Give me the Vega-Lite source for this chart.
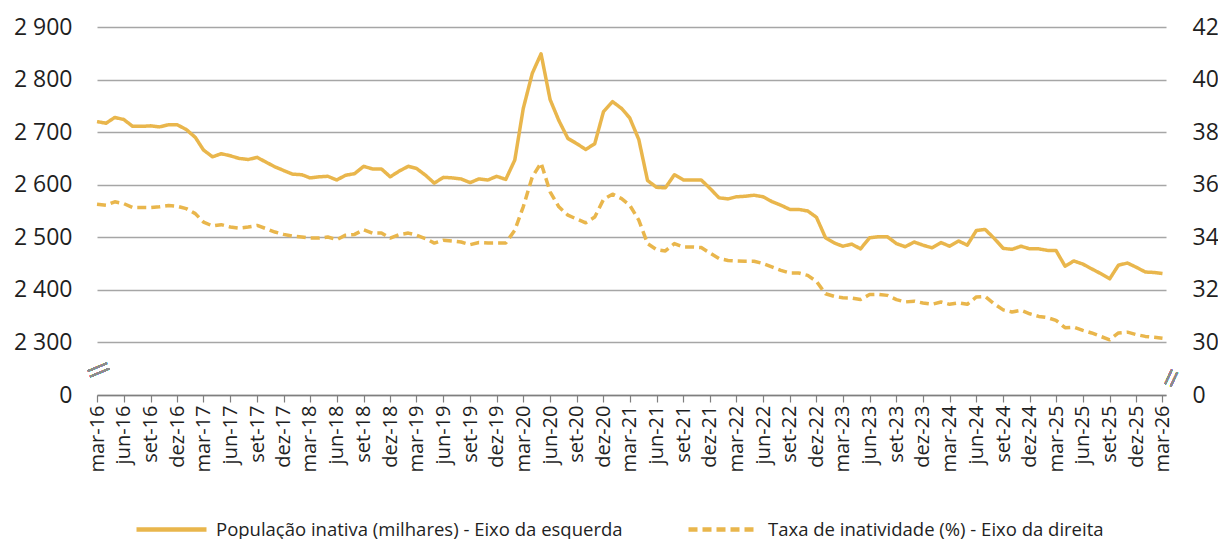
{
  "$schema": "https://vega.github.io/schema/vega-lite/v6.json",
  "width": 1069,
  "height": 368,
  "autosize": {"type": "none"},
  "padding": {"left": 97, "top": 27, "right": 52, "bottom": 144},
  "background": "white",
  "config": {
    "view": {"stroke": null},
    "font": "Open Sans",
    "axis": {"labelFont": "Open Sans", "labelColor": "#1f1f1f"},
    "legend": {"labelFont": "Open Sans"}
  },
  "data": {
    "values": [
      {"d": "2016-03-01", "p": 2720, "t": 35.26},
      {"d": "2016-04-01", "p": 2717, "t": 35.22},
      {"d": "2016-05-01", "p": 2728, "t": 35.35},
      {"d": "2016-06-01", "p": 2724, "t": 35.28},
      {"d": "2016-07-01", "p": 2711, "t": 35.13},
      {"d": "2016-08-01", "p": 2711, "t": 35.13},
      {"d": "2016-09-01", "p": 2712, "t": 35.13},
      {"d": "2016-10-01", "p": 2710, "t": 35.16},
      {"d": "2016-11-01", "p": 2714, "t": 35.21},
      {"d": "2016-12-01", "p": 2714, "t": 35.18},
      {"d": "2017-01-01", "p": 2705, "t": 35.09},
      {"d": "2017-02-01", "p": 2690, "t": 34.90},
      {"d": "2017-03-01", "p": 2666, "t": 34.58},
      {"d": "2017-04-01", "p": 2653, "t": 34.43},
      {"d": "2017-05-01", "p": 2659, "t": 34.48},
      {"d": "2017-06-01", "p": 2655, "t": 34.39},
      {"d": "2017-07-01", "p": 2650, "t": 34.35},
      {"d": "2017-08-01", "p": 2648, "t": 34.39},
      {"d": "2017-09-01", "p": 2652, "t": 34.45},
      {"d": "2017-10-01", "p": 2643, "t": 34.33},
      {"d": "2017-11-01", "p": 2634, "t": 34.20},
      {"d": "2017-12-01", "p": 2627, "t": 34.11},
      {"d": "2018-01-01", "p": 2620, "t": 34.04},
      {"d": "2018-02-01", "p": 2619, "t": 34.01},
      {"d": "2018-03-01", "p": 2613, "t": 33.97},
      {"d": "2018-04-01", "p": 2615, "t": 33.97},
      {"d": "2018-05-01", "p": 2616, "t": 34.01},
      {"d": "2018-06-01", "p": 2609, "t": 33.91},
      {"d": "2018-07-01", "p": 2618, "t": 34.08},
      {"d": "2018-08-01", "p": 2621, "t": 34.11},
      {"d": "2018-09-01", "p": 2635, "t": 34.29},
      {"d": "2018-10-01", "p": 2630, "t": 34.16},
      {"d": "2018-11-01", "p": 2630, "t": 34.16},
      {"d": "2018-12-01", "p": 2615, "t": 33.97},
      {"d": "2019-01-01", "p": 2626, "t": 34.10},
      {"d": "2019-02-01", "p": 2635, "t": 34.16},
      {"d": "2019-03-01", "p": 2631, "t": 34.08},
      {"d": "2019-04-01", "p": 2618, "t": 33.95},
      {"d": "2019-05-01", "p": 2603, "t": 33.78},
      {"d": "2019-06-01", "p": 2614, "t": 33.89},
      {"d": "2019-07-01", "p": 2613, "t": 33.86},
      {"d": "2019-08-01", "p": 2611, "t": 33.82},
      {"d": "2019-09-01", "p": 2604, "t": 33.72},
      {"d": "2019-10-01", "p": 2611, "t": 33.80},
      {"d": "2019-11-01", "p": 2609, "t": 33.78},
      {"d": "2019-12-01", "p": 2616, "t": 33.78},
      {"d": "2020-01-01", "p": 2610, "t": 33.78},
      {"d": "2020-02-01", "p": 2647, "t": 34.27},
      {"d": "2020-03-01", "p": 2745, "t": 35.16},
      {"d": "2020-04-01", "p": 2812, "t": 36.30},
      {"d": "2020-05-01", "p": 2849, "t": 36.83},
      {"d": "2020-06-01", "p": 2762, "t": 35.73},
      {"d": "2020-07-01", "p": 2722, "t": 35.16},
      {"d": "2020-08-01", "p": 2688, "t": 34.84},
      {"d": "2020-09-01", "p": 2678, "t": 34.69},
      {"d": "2020-10-01", "p": 2667, "t": 34.55},
      {"d": "2020-11-01", "p": 2678, "t": 34.77},
      {"d": "2020-12-01", "p": 2739, "t": 35.44},
      {"d": "2021-01-01", "p": 2758, "t": 35.64},
      {"d": "2021-02-01", "p": 2745, "t": 35.47},
      {"d": "2021-03-01", "p": 2727, "t": 35.22},
      {"d": "2021-04-01", "p": 2686, "t": 34.65},
      {"d": "2021-05-01", "p": 2608, "t": 33.76},
      {"d": "2021-06-01", "p": 2595, "t": 33.53},
      {"d": "2021-07-01", "p": 2594, "t": 33.48},
      {"d": "2021-08-01", "p": 2619, "t": 33.76},
      {"d": "2021-09-01", "p": 2609, "t": 33.63},
      {"d": "2021-10-01", "p": 2609, "t": 33.63},
      {"d": "2021-11-01", "p": 2609, "t": 33.61},
      {"d": "2021-12-01", "p": 2593, "t": 33.40},
      {"d": "2022-01-01", "p": 2575, "t": 33.19},
      {"d": "2022-02-01", "p": 2573, "t": 33.12},
      {"d": "2022-03-01", "p": 2577, "t": 33.10},
      {"d": "2022-04-01", "p": 2578, "t": 33.09},
      {"d": "2022-05-01", "p": 2580, "t": 33.09},
      {"d": "2022-06-01", "p": 2577, "t": 33.00},
      {"d": "2022-07-01", "p": 2568, "t": 32.87},
      {"d": "2022-08-01", "p": 2561, "t": 32.74},
      {"d": "2022-09-01", "p": 2553, "t": 32.64},
      {"d": "2022-10-01", "p": 2553, "t": 32.64},
      {"d": "2022-11-01", "p": 2550, "t": 32.55},
      {"d": "2022-12-01", "p": 2538, "t": 32.32},
      {"d": "2023-01-01", "p": 2499, "t": 31.85},
      {"d": "2023-02-01", "p": 2489, "t": 31.75},
      {"d": "2023-03-01", "p": 2483, "t": 31.70},
      {"d": "2023-04-01", "p": 2487, "t": 31.69},
      {"d": "2023-05-01", "p": 2478, "t": 31.63},
      {"d": "2023-06-01", "p": 2499, "t": 31.82},
      {"d": "2023-07-01", "p": 2501, "t": 31.83},
      {"d": "2023-08-01", "p": 2501, "t": 31.79},
      {"d": "2023-09-01", "p": 2488, "t": 31.63},
      {"d": "2023-10-01", "p": 2482, "t": 31.54},
      {"d": "2023-11-01", "p": 2491, "t": 31.57},
      {"d": "2023-12-01", "p": 2485, "t": 31.50},
      {"d": "2024-01-01", "p": 2480, "t": 31.45},
      {"d": "2024-02-01", "p": 2490, "t": 31.54},
      {"d": "2024-03-01", "p": 2483, "t": 31.45},
      {"d": "2024-04-01", "p": 2493, "t": 31.51},
      {"d": "2024-05-01", "p": 2485, "t": 31.45},
      {"d": "2024-06-01", "p": 2513, "t": 31.73},
      {"d": "2024-07-01", "p": 2515, "t": 31.75},
      {"d": "2024-08-01", "p": 2498, "t": 31.47},
      {"d": "2024-09-01", "p": 2479, "t": 31.24},
      {"d": "2024-10-01", "p": 2477, "t": 31.16},
      {"d": "2024-11-01", "p": 2483, "t": 31.22},
      {"d": "2024-12-01", "p": 2478, "t": 31.09},
      {"d": "2025-01-01", "p": 2478, "t": 30.99},
      {"d": "2025-02-01", "p": 2475, "t": 30.94},
      {"d": "2025-03-01", "p": 2475, "t": 30.84},
      {"d": "2025-04-01", "p": 2445, "t": 30.56},
      {"d": "2025-05-01", "p": 2455, "t": 30.58},
      {"d": "2025-06-01", "p": 2449, "t": 30.46},
      {"d": "2025-07-01", "p": 2440, "t": 30.36},
      {"d": "2025-08-01", "p": 2431, "t": 30.23},
      {"d": "2025-09-01", "p": 2421, "t": 30.10},
      {"d": "2025-10-01", "p": 2447, "t": 30.36},
      {"d": "2025-11-01", "p": 2451, "t": 30.39},
      {"d": "2025-12-01", "p": 2443, "t": 30.30},
      {"d": "2026-01-01", "p": 2434, "t": 30.23},
      {"d": "2026-02-01", "p": 2433, "t": 30.20},
      {"d": "2026-03-01", "p": 2431, "t": 30.16}
    ]
  },
  "encoding": {
    "x": {
      "field": "d",
      "type": "temporal",
      "scale": {
        "type": "utc",
        "domain": [
          {"year": 2016, "month": 3, "date": 1, "utc": true},
          {"year": 2026, "month": 3, "date": 13, "utc": true}
        ]
      },
      "axis": {
        "title": null,
        "grid": false,
        "values": [
          {"year": 2016, "month": 3, "date": 1, "utc": true}, {"year": 2016, "month": 6, "date": 1, "utc": true}, {"year": 2016, "month": 9, "date": 1, "utc": true}, {"year": 2016, "month": 12, "date": 1, "utc": true},
          {"year": 2017, "month": 3, "date": 1, "utc": true}, {"year": 2017, "month": 6, "date": 1, "utc": true}, {"year": 2017, "month": 9, "date": 1, "utc": true}, {"year": 2017, "month": 12, "date": 1, "utc": true},
          {"year": 2018, "month": 3, "date": 1, "utc": true}, {"year": 2018, "month": 6, "date": 1, "utc": true}, {"year": 2018, "month": 9, "date": 1, "utc": true}, {"year": 2018, "month": 12, "date": 1, "utc": true},
          {"year": 2019, "month": 3, "date": 1, "utc": true}, {"year": 2019, "month": 6, "date": 1, "utc": true}, {"year": 2019, "month": 9, "date": 1, "utc": true}, {"year": 2019, "month": 12, "date": 1, "utc": true},
          {"year": 2020, "month": 3, "date": 1, "utc": true}, {"year": 2020, "month": 6, "date": 1, "utc": true}, {"year": 2020, "month": 9, "date": 1, "utc": true}, {"year": 2020, "month": 12, "date": 1, "utc": true},
          {"year": 2021, "month": 3, "date": 1, "utc": true}, {"year": 2021, "month": 6, "date": 1, "utc": true}, {"year": 2021, "month": 9, "date": 1, "utc": true}, {"year": 2021, "month": 12, "date": 1, "utc": true},
          {"year": 2022, "month": 3, "date": 1, "utc": true}, {"year": 2022, "month": 6, "date": 1, "utc": true}, {"year": 2022, "month": 9, "date": 1, "utc": true}, {"year": 2022, "month": 12, "date": 1, "utc": true},
          {"year": 2023, "month": 3, "date": 1, "utc": true}, {"year": 2023, "month": 6, "date": 1, "utc": true}, {"year": 2023, "month": 9, "date": 1, "utc": true}, {"year": 2023, "month": 12, "date": 1, "utc": true},
          {"year": 2024, "month": 3, "date": 1, "utc": true}, {"year": 2024, "month": 6, "date": 1, "utc": true}, {"year": 2024, "month": 9, "date": 1, "utc": true}, {"year": 2024, "month": 12, "date": 1, "utc": true},
          {"year": 2025, "month": 3, "date": 1, "utc": true}, {"year": 2025, "month": 6, "date": 1, "utc": true}, {"year": 2025, "month": 9, "date": 1, "utc": true}, {"year": 2025, "month": 12, "date": 1, "utc": true},
          {"year": 2026, "month": 3, "date": 1, "utc": true}
        ],
        "labelExpr": "['jan','fev','mar','abr','mai','jun','jul','ago','set','out','nov','dez'][utcmonth(datum.value)] + '-' + utcFormat(datum.value, '%y')",
        "labelAngle": 270,
        "labelFontSize": 20,
        "labelPadding": 3,
        "labelOverlap": false,
        "labelFlush": false,
        "tickSize": 7,
        "tickColor": "#7f7f7f",
        "tickWidth": 1.2,
        "domainColor": "#7f7f7f",
        "domainWidth": 1.5
      }
    }
  },
  "layer": [
    {
      "mark": {"type": "line", "color": "#E9B64C", "strokeWidth": 3.5, "strokeJoin": "round"},
      "encoding": {
        "y": {
          "field": "p",
          "type": "quantitative",
          "scale": {"domain": [2200, 2900], "nice": false, "zero": false},
          "axis": {
            "orient": "left",
            "title": null,
            "values": [2200, 2300, 2400, 2500, 2600, 2700, 2800, 2900],
            "labelExpr": "datum.value == 2200 ? '0' : replace(format(datum.value, ','), ',', ' ')",
            "labelFontSize": 23,
            "labelPadding": 25,
            "ticks": false,
            "domain": false,
            "grid": true,
            "gridColor": "#a6a6a6",
            "gridWidth": 1.3
          }
        },
        "strokeDash": {
          "datum": "População inativa (milhares) - Eixo da esquerda",
          "type": "nominal",
          "scale": {
            "domain": ["População inativa (milhares) - Eixo da esquerda", "Taxa de inatividade (%) - Eixo da direita"],
            "range": [[1, 0], [9, 5]]
          },
          "legend": {
            "orient": "none",
            "legendX": 37,
            "legendY": 465,
            "direction": "horizontal",
            "title": null,
            "labelFontSize": 18.5,
            "labelColor": "#1f1f1f",
            "labelLimit": 600,
            "symbolType": "stroke",
            "symbolSize": 4900,
            "symbolStrokeWidth": 4.5,
            "symbolStrokeColor": "#E9B64C",
            "columnPadding": 56,
            "labelOffset": 7
          }
        }
      }
    },
    {
      "mark": {"type": "line", "color": "#E9B64C", "strokeWidth": 3.5, "strokeJoin": "round"},
      "encoding": {
        "y": {
          "field": "t",
          "type": "quantitative",
          "scale": {"domain": [28, 42], "nice": false, "zero": false},
          "axis": {
            "orient": "right",
            "title": null,
            "values": [28, 30, 32, 34, 36, 38, 40, 42],
            "labelExpr": "datum.value == 28 ? '0' : datum.label",
            "labelFontSize": 23,
            "labelPadding": 26,
            "ticks": false,
            "domain": false,
            "grid": false
          }
        },
        "strokeDash": {"datum": "Taxa de inatividade (%) - Eixo da direita", "type": "nominal"}
      }
    },
    {
      "mark": {"type": "text", "text": ["—", "—"], "lineHeight": 6, "angle": 338, "fontSize": 22, "color": "#8c8c8c", "font": "Open Sans"},
      "encoding": {
        "x": {"datum": {"year": 2016, "month": 3, "date": 1, "utc": true}, "type": "temporal"},
        "y": {"datum": 2255, "type": "quantitative", "scale": {"domain": [2200, 2900], "nice": false, "zero": false}, "axis": null}
      }
    },
    {
      "mark": {"type": "text", "text": ["—", "—"], "lineHeight": 6, "angle": 295, "fontSize": 17, "color": "#8c8c8c", "font": "Open Sans"},
      "encoding": {
        "x": {"datum": {"year": 2026, "month": 3, "date": 20, "utc": true}, "type": "temporal"},
        "y": {"datum": 28.7, "type": "quantitative", "scale": {"domain": [28, 42], "nice": false, "zero": false}, "axis": null}
      }
    }
  ],
  "resolve": {"scale": {"y": "independent"}}
}
